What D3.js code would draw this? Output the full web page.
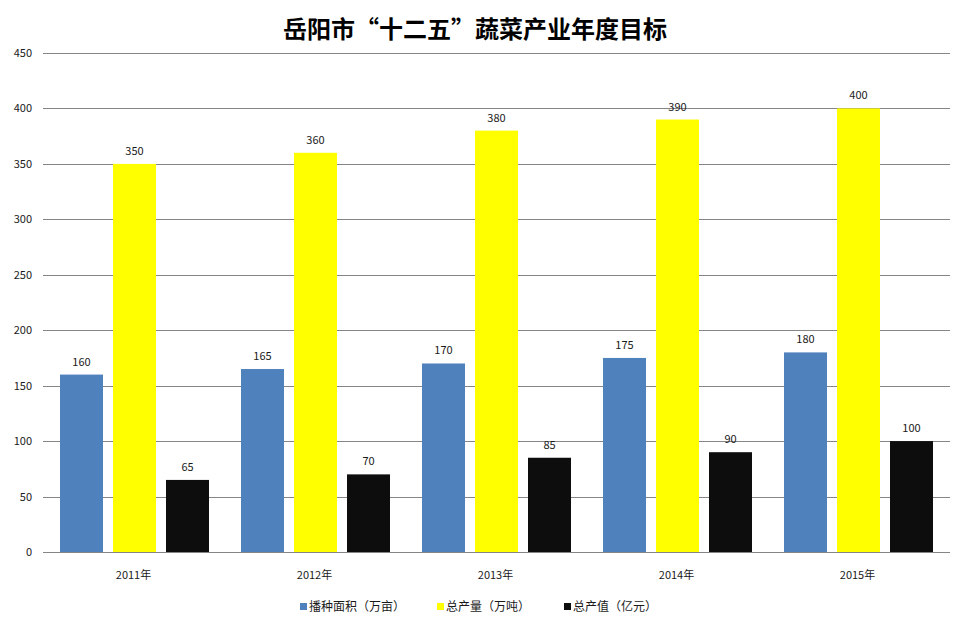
<!DOCTYPE html>
<html><head><meta charset="utf-8">
<script src="https://cdn.jsdelivr.net/npm/d3@7"></script>
<style>body{margin:0;background:#fff;}svg{display:block;}</style>
</head><body>
<script>
const categories = ["2011年","2012年","2013年","2014年","2015年"];
const seriesNames = ["播种面积（万亩）","总产量（万吨）","总产值（亿元）"];
const area = [160,165,170,175,180];
const output = [350,360,380,390,400];
const value = [65,70,85,90,100];
const yTicks = [0,50,100,150,200,250,300,350,400,450];
const colors = ["#4F81BD","#FFFF00","#0D0D0D"];
const series = [area, output, value];

const W=960,H=623;
const svg=d3.select("body").append("svg").attr("width",W).attr("height",H);
const font="'Noto Sans CJK SC','DejaVu Sans',sans-serif";
const m={l:43,r:12,t:53,b:71};
const x=d3.scaleBand().domain(categories).range([m.l,W-m.r]).paddingInner(0).paddingOuter(0);
const y=d3.scaleLinear().domain([0,450]).range([H-m.b,m.t]);
const x1=d3.scaleBand().domain(d3.range(3)).range([17,17+149]).paddingInner(10/53);

svg.append("text").attr("x",475).attr("y",38).attr("text-anchor","middle")
 .attr("font-family",font).attr("font-weight","bold").attr("font-size",24).attr("fill","#000")
 .text("岳阳市“十二五”蔬菜产业年度目标");

const g=svg.append("g");
g.selectAll("line.grid").data(yTicks).join("line")
 .attr("x1",m.l).attr("x2",950).attr("y1",d=>Math.round(y(d))+0.5).attr("y2",d=>Math.round(y(d))+0.5)
 .attr("stroke","#868686").attr("stroke-width",1);
g.selectAll("text.yt").data(yTicks).join("text")
 .attr("x",32).attr("y",d=>y(d)+4).attr("text-anchor","end")
 .attr("font-family",font).attr("font-size",11).attr("fill","#1a1a1a").text(d=>d);

categories.forEach((c,i)=>{
  series.forEach((s,j)=>{
    const bx=x(c)+x1(j);
    g.append("rect").attr("x",bx).attr("width",x1.bandwidth())
     .attr("y",y(s[i])).attr("height",y(0)-y(s[i])).attr("fill",colors[j]);
    g.append("text").attr("x",bx+x1.bandwidth()/2).attr("y",y(s[i])-9)
     .attr("text-anchor","middle").attr("font-family",font).attr("font-size",11).attr("fill","#1a1a1a").text(s[i]);
  });
  g.append("text").attr("x",x(c)+x.bandwidth()/2).attr("y",579).attr("text-anchor","middle")
   .attr("font-family",font).attr("font-size",11).attr("fill","#1a1a1a").text(c);
});

const legX=[300,437,564];
seriesNames.forEach((n,j)=>{
  svg.append("rect").attr("x",legX[j]).attr("y",603).attr("width",7).attr("height",7).attr("fill",colors[j]);
  svg.append("text").attr("x",legX[j]+9).attr("y",611).attr("font-family",font).attr("font-size",12).attr("fill","#1a1a1a").text(n);
});
</script>
</body></html>
